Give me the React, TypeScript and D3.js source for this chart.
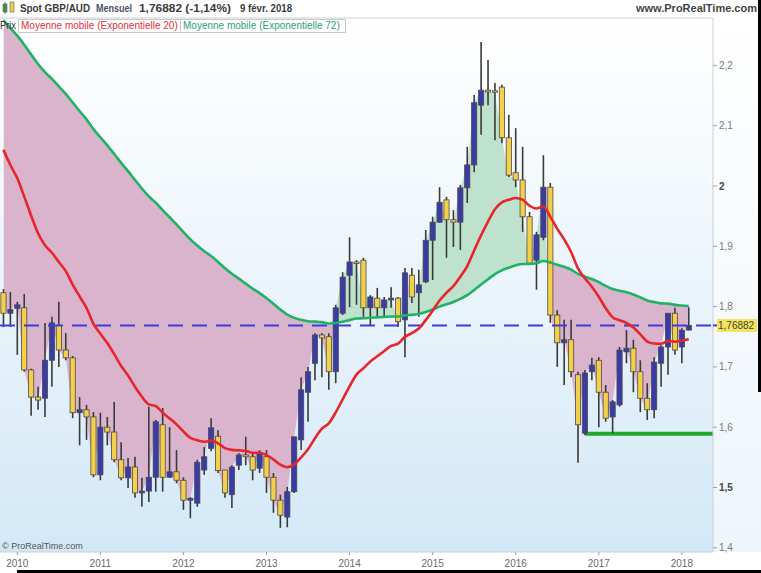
import * as d3 from "d3"

// monthly candles, Nov 2009 -> Feb 2018
const firstMonth = new Date(2009, 10, 1)

const opens = [
  1.823, 1.789, 1.797, 1.798, 1.695, 1.65, 1.648, 1.711, 1.769, 1.728,
  1.715, 1.624, 1.629, 1.617, 1.521, 1.6, 1.592, 1.546, 1.516, 1.534,
  1.491, 1.494, 1.517, 1.604, 1.517, 1.526, 1.512, 1.479, 1.474, 1.529,
  1.565, 1.585, 1.529, 1.488, 1.537, 1.554, 1.551, 1.532, 1.551, 1.517,
  1.479, 1.451, 1.493, 1.579, 1.658, 1.706, 1.753, 1.75, 1.692, 1.789,
  1.852, 1.874, 1.877, 1.798, 1.814, 1.798, 1.811, 1.814, 1.778, 1.852,
  1.823, 1.841, 1.91, 1.94, 1.977, 1.944, 1.94, 1.997, 2.035, 2.134,
  2.159, 2.158, 2.164, 2.08, 2.022, 2.01, 1.949, 1.877, 1.915, 1.998,
  1.786, 1.74, 1.745, 1.687, 1.59, 1.692, 1.711, 1.658, 1.617, 1.637,
  1.725, 1.731, 1.692, 1.648, 1.629, 1.706, 1.733, 1.789, 1.733, 1.761,
]
const highs = [
  1.829, 1.824, 1.808, 1.821, 1.697, 1.667, 1.773, 1.783, 1.808, 1.756,
  1.718, 1.65, 1.637, 1.625, 1.624, 1.617, 1.642, 1.575, 1.549, 1.551,
  1.516, 1.634, 1.612, 1.632, 1.6, 1.562, 1.517, 1.484, 1.546, 1.567,
  1.615, 1.595, 1.529, 1.537, 1.557, 1.584, 1.557, 1.562, 1.562, 1.524,
  1.488, 1.501, 1.584, 1.683, 1.7, 1.756, 1.756, 1.756, 1.803, 1.857,
  1.915, 1.877, 1.881, 1.819, 1.831, 1.816, 1.832, 1.816, 1.864, 1.864,
  1.861, 1.927, 1.949, 1.998, 1.982, 1.96, 2.002, 2.065, 2.151, 2.239,
  2.209, 2.171, 2.168, 2.118, 2.096, 2.065, 1.957, 1.924, 2.051, 2.005,
  1.794, 1.778, 1.778, 1.692, 1.695, 1.715, 1.716, 1.67, 1.645, 1.733,
  1.761, 1.745, 1.711, 1.673, 1.716, 1.736, 1.789, 1.798, 1.764, 1.799,
]
const lows = [
  1.766, 1.766, 1.72, 1.692, 1.619, 1.629, 1.617, 1.667, 1.7, 1.711,
  1.615, 1.57, 1.579, 1.517, 1.512, 1.57, 1.542, 1.512, 1.499, 1.483,
  1.468, 1.476, 1.493, 1.493, 1.516, 1.507, 1.463, 1.449, 1.468, 1.521,
  1.56, 1.524, 1.483, 1.466, 1.529, 1.537, 1.512, 1.524, 1.491, 1.458,
  1.433, 1.434, 1.491, 1.562, 1.609, 1.678, 1.683, 1.662, 1.673, 1.786,
  1.799, 1.803, 1.783, 1.769, 1.783, 1.783, 1.798, 1.766, 1.716, 1.806,
  1.783, 1.839, 1.844, 1.939, 1.881, 1.899, 1.894, 1.972, 2.023, 2.085,
  2.134, 2.076, 2.071, 2.015, 1.998, 1.924, 1.872, 1.828, 1.91, 1.773,
  1.7, 1.67, 1.683, 1.541, 1.587, 1.678, 1.6, 1.609, 1.59, 1.634,
  1.706, 1.658, 1.625, 1.612, 1.615, 1.667, 1.687, 1.72, 1.706, 1.761,
]
const closes = [
  1.789, 1.795, 1.803, 1.695, 1.65, 1.645, 1.711, 1.773, 1.728, 1.715,
  1.624, 1.629, 1.617, 1.521, 1.6, 1.592, 1.546, 1.516, 1.534, 1.491,
  1.494, 1.517, 1.609, 1.517, 1.526, 1.512, 1.479, 1.482, 1.542, 1.551,
  1.599, 1.528, 1.491, 1.534, 1.554, 1.551, 1.529, 1.557, 1.517, 1.479,
  1.454, 1.493, 1.584, 1.662, 1.692, 1.753, 1.748, 1.692, 1.798, 1.849,
  1.874, 1.872, 1.798, 1.816, 1.798, 1.811, 1.814, 1.775, 1.856, 1.816,
  1.836, 1.91, 1.94, 1.973, 1.944, 1.94, 1.997, 2.035, 2.138, 2.159,
  2.156, 2.156, 2.08, 2.018, 2.01, 1.949, 1.872, 1.919, 1.998, 1.786,
  1.74, 1.745, 1.692, 1.604, 1.69, 1.703, 1.658, 1.615, 1.642, 1.728,
  1.731, 1.692, 1.648, 1.629, 1.708, 1.733, 1.789, 1.728, 1.761, 1.7688,
]

// moving averages value on the first visible month
const ema20Start = 2.06
const ema72Start = 2.275

const lastPrice = 1.76882
const supportLevel = 1.589
const supportFrom = 84

const yTicks = [2.2, 2.1, 2.0, 1.9, 1.8, 1.7, 1.6, 1.5, 1.4]
const boldTicks = [2.0, 1.5]
const yearLabels = ["2010", "2011", "2012", "2013", "2014", "2015", "2016", "2017", "2018"]

const W = 761
const H = 573
const plotR = 713
const plotT = 18
const plotB = 552
const font = "'Liberation Sans', Arial, sans-serif"

function ema(values: number[], period: number, start: number) {
  const k = 2 / (period + 1)
  const out = [start]
  for (let i = 1; i < values.length; i++) out.push(out[i - 1] + k * (values[i] - out[i - 1]))
  return out
}

export default function App() {
  const months = closes.map((_, i) => d3.timeMonth.offset(firstMonth, i))
  const x = d3.scaleLinear().domain([-0.5, 102.5]).range([0, plotR])
  const y = d3.scaleLinear().domain([1.4, 2.2]).range([547.8, 65.4])

  const ema20 = ema(closes, 20, ema20Start)
  const ema72 = ema(closes, 72, ema72Start)
  const idx = closes.map((_, i) => i)

  const between = d3
    .area<number>()
    .x((i) => x(i))
    .y0((i) => y(closes[i]))
    .y1((i) => y(ema72[i]))
  const aboveEma = d3
    .area<number>()
    .x((i) => x(i))
    .y0(0)
    .y1((i) => y(ema72[i]))
  const belowEma = d3
    .area<number>()
    .x((i) => x(i))
    .y0((i) => y(ema72[i]))
    .y1(H)
  const line = (vals: number[]) =>
    d3
      .line<number>()
      .x((i) => x(i))
      .y((i) => y(vals[i]))
      .curve(d3.curveMonotoneX)(idx) || ""

  const yearTicks = yearLabels.map((lab) => ({
    lab,
    i: months.findIndex((m) => m.getFullYear() === +lab && m.getMonth() === 0),
  }))

  const fmt = (v: number) => String(+v.toFixed(5)).replace(".", ",")
  const yLast = y(lastPrice)

  return (
    <svg width={W} height={H} style={{ position: "absolute", left: 0, top: 0, fontFamily: font }}>
      <defs>
        <linearGradient id="bg" x1="0" y1="0" x2="0" y2="1">
          <stop offset="0" stopColor="#ffffff" />
          <stop offset="0.35" stopColor="#f2f8fc" />
          <stop offset="1" stopColor="#d3e8f7" />
        </linearGradient>
        <linearGradient id="bgAxis" x1="0" y1="0" x2="0" y2="1">
          <stop offset="0" stopColor="#ffffff" />
          <stop offset="1" stopColor="#eef5fb" />
        </linearGradient>
        <clipPath id="plot">
          <rect x={0} y={plotT} width={plotR} height={plotB - plotT} />
        </clipPath>
        <clipPath id="above">
          <path d={aboveEma(idx) || ""} />
        </clipPath>
        <clipPath id="below">
          <path d={belowEma(idx) || ""} />
        </clipPath>
      </defs>

      <rect width={W} height={H} fill="#ffffff" />
      <rect x={0} y={plotT} width={plotR} height={plotB - plotT} fill="url(#bg)" />
      <rect x={plotR} y={plotT} width={W - plotR} height={plotB - plotT} fill="url(#bgAxis)" />

      <g clipPath="url(#plot)">
        <path d={between(idx) || ""} fill="#d9b4cc" clipPath="url(#below)" />
        <path d={between(idx) || ""} fill="#bfe2cf" clipPath="url(#above)" />

        <line x1={x(supportFrom)} x2={plotR} y1={y(supportLevel)} y2={y(supportLevel)} stroke="#22a82a" strokeWidth={4} />

        {idx.map((i) => {
          const up = closes[i] >= opens[i]
          const top = y(Math.max(opens[i], closes[i]))
          const bot = y(Math.min(opens[i], closes[i]))
          return (
            <g key={i}>
              <line x1={x(i)} x2={x(i)} y1={y(highs[i])} y2={y(lows[i])} stroke="#3a3a3a" strokeWidth={1.6} />
              <rect
                x={x(i) - 2.6}
                y={top}
                width={5.2}
                height={Math.max(1.5, bot - top)}
                fill={up ? "#3b3ba6" : "#f4d04a"}
                stroke="#4a4a4a"
                strokeWidth={0.8}
              />
            </g>
          )
        })}

        <line x1={0} x2={plotR} y1={yLast} y2={yLast} stroke="#3d3ddc" strokeWidth={2} strokeDasharray="15 9" />

        <path d={line(ema72)} fill="none" stroke="#1fb264" strokeWidth={2.6} />
        <path d={line(ema20)} fill="none" stroke="#e8252b" strokeWidth={2.6} />
      </g>

      {/* frame */}
      <line x1={0} x2={plotR} y1={plotT} y2={plotT} stroke="#c9d0d6" />
      <line x1={plotR} x2={plotR} y1={plotT} y2={plotB} stroke="#c9d0d6" />
      <line x1={0} x2={plotR} y1={plotB} y2={plotB} stroke="#c9d0d6" />

      {/* y axis */}
      {yTicks.map((t) => {
        const bold = boldTicks.includes(t)
        return (
          <g key={t} transform={`translate(${plotR},${y(t)})`}>
            <line x1={0} x2={4} stroke="#9aa3ab" />
            <text x={6} dy="0.35em" fontSize={10} fontWeight={bold ? 700 : 400} fill={bold ? "#444" : "#7a7a7a"}>
              {fmt(t)}
            </text>
          </g>
        )
      })}
      <line x1={plotR} x2={plotR + 4} y1={yLast} y2={yLast} stroke="#3d3ddc" strokeWidth={2} />
      <rect x={plotR + 4} y={yLast - 6.5} width={40} height={13} fill="#f4e45a" />
      <text x={plotR + 5} y={yLast} dy="0.35em" fontSize={10} fill="#444">
        {fmt(lastPrice)}
      </text>

      {/* x axis */}
      {yearTicks.map((t) => (
        <g key={t.lab} transform={`translate(${x(t.i)},${plotB})`}>
          <line y1={0} y2={3} stroke="#9aa3ab" />
          <text y={15} textAnchor="middle" fontSize={10} fill="#6a6a6a">
            {t.lab}
          </text>
        </g>
      ))}
      <text x={2} y={plotB - 3} fontSize={9} fill="#555">
        © ProRealTime.com
      </text>

      {/* header */}
      <rect x={3} y={4} width={4} height={8} fill="#3cb043" stroke="#555" strokeWidth={0.6} />
      <line x1={5} x2={5} y1={2} y2={14} stroke="#555" strokeWidth={0.8} />
      <rect x={10} y={2} width={4} height={10} fill="#f4d04a" stroke="#555" strokeWidth={0.6} />
      <text x={20} y={12} fontSize={10} fontWeight={700} fill="#3a3a3a" textLength={70} lengthAdjust="spacingAndGlyphs">
        Spot GBP/AUD
      </text>
      <text x={96} y={12} fontSize={10} fontWeight={700} fill="#4a4f66" textLength={36} lengthAdjust="spacingAndGlyphs">
        Mensuel
      </text>
      <text x={139} y={12} fontSize={10} fontWeight={700} fill="#3a3a3a" textLength={92} lengthAdjust="spacingAndGlyphs">
        1,76882 (-1,14%)
      </text>
      <text x={240} y={12} fontSize={10} fontWeight={700} fill="#3a3a3a" textLength={52} lengthAdjust="spacingAndGlyphs">
        9 févr. 2018
      </text>
      <text x={757} y={12} textAnchor="end" fontSize={11} fontWeight={700} fill="#444">
        www.ProRealTime.com
      </text>

      {/* legend */}
      <text x={0} y={29} fontSize={10} fill="#333" textLength={16} lengthAdjust="spacingAndGlyphs">
        Prix
      </text>
      <rect x={18.5} y={19.5} width={162} height={13} fill="#ffffff" stroke="#c8c8c8" />
      <text x={21} y={29} fontSize={10} fill="#e0303a">
        Moyenne mobile (Exponentielle 20)
      </text>
      <rect x={180.5} y={19.5} width={165} height={13} fill="#ffffff" stroke="#c8c8c8" />
      <text x={183} y={29} fontSize={10} fill="#2aa27a">
        Moyenne mobile (Exponentielle 72)
      </text>

      {/* scan borders */}
      <rect x={758} y={0} width={3} height={392} fill="#000" />
      <rect x={17} y={570} width={W - 17} height={3} fill="#000" />
    </svg>
  )
}
